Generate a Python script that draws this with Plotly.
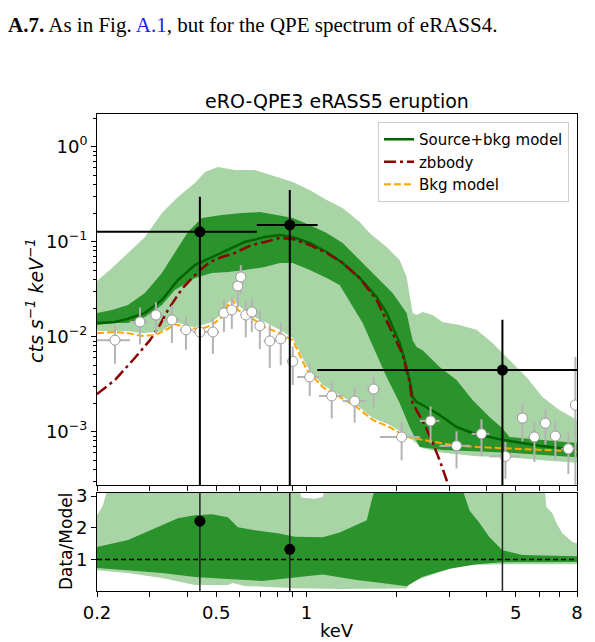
import math
import plotly.graph_objects as go

# ---------------- data (keV, cts s^-1 keV^-1) ----------------
outer_hi_e = [0.2, 0.2244, 0.2537, 0.2891, 0.3293, 0.3724, 0.4244, 0.4583, 0.5064, 0.5768, 0.6726, 0.726,
              0.7962, 0.9003, 1.0257, 1.1686, 1.3212, 1.5056, 1.6255, 1.8517, 2.0466, 2.1598, 2.2101, 2.2615,
              2.332, 2.4418, 2.6363, 2.8486, 3.2436, 3.6957, 4.1786, 4.7603, 5.4241, 6.1336, 6.9878, 8.0]
outer_hi_v = [0.0386, 0.0529, 0.0760, 0.1121, 0.200, 0.295, 0.415, 0.542, 0.611, 0.568, 0.568, 0.529,
              0.480, 0.425, 0.350, 0.275, 0.226, 0.161, 0.1235, 0.0879, 0.0642, 0.0425, 0.0275, 0.0178,
              0.0169, 0.0182, 0.0169, 0.0143, 0.0133, 0.0118, 0.0086, 0.0057, 0.00377, 0.00232, 0.00169, 0.00133]

outer_lo_e = [0.2, 0.2537, 0.2825, 0.3121, 0.3293, 0.3449, 0.364, 0.4024, 0.4244, 0.4837, 0.5223, 0.5469,
              0.5681, 0.5903, 0.6228, 0.6573, 0.726, 0.8147, 0.9003, 1.0032, 1.1334, 1.2911, 1.4714, 1.6635,
              1.8948, 2.1598, 2.4418, 2.8486, 3.6957, 4.7603, 6.1336, 8.0]
outer_lo_v = [0.0115, 0.0115, 0.0109, 0.0112, 0.0115, 0.0126, 0.0143, 0.0130, 0.0126, 0.0143, 0.0173, 0.0226,
              0.0255, 0.0216, 0.0191, 0.0165, 0.0143, 0.0118, 0.0097, 0.0049, 0.0031, 0.00243, 0.00191, 0.00139,
              0.00118, 0.00092, 0.00067, 0.00060, 0.00055, 0.00054, 0.00050, 0.00047]

inner_hi_e = [0.2, 0.2244, 0.2537, 0.2891, 0.3293, 0.3724, 0.4024, 0.4478, 0.5223, 0.6086, 0.6991, 0.7962,
              0.9003, 1.0257, 1.1686, 1.3212, 1.5056, 1.7153, 1.939, 2.1598, 2.2615, 2.332, 2.4418, 2.7838,
              3.1698, 3.5836, 4.0833, 4.5113, 4.7603, 6.1336, 8.0]
inner_hi_v = [0.0178, 0.0191, 0.0216, 0.0288, 0.0468, 0.0879, 0.1265, 0.178, 0.191, 0.200, 0.205, 0.191,
              0.178, 0.150, 0.1235, 0.0969, 0.0642, 0.0425, 0.0288, 0.0178, 0.0092, 0.0078, 0.0072, 0.0048,
              0.0035, 0.00216, 0.00143, 0.00109, 0.00088, 0.00082, 0.00076]

inner_lo_e = [0.2, 0.2296, 0.2537, 0.2891, 0.3293, 0.364, 0.4244, 0.4837, 0.5469, 0.6228, 0.726, 0.8147,
              0.9003, 1.0257, 1.1686, 1.2911, 1.5407, 1.8517, 2.0466, 2.2101, 2.3862, 2.8486, 4.7603, 8.0]
inner_lo_v = [0.0133, 0.0139, 0.0139, 0.0161, 0.0216, 0.0310, 0.0415, 0.0468, 0.0480, 0.0504, 0.0540, 0.0597,
              0.0597, 0.0504, 0.0415, 0.0350, 0.0139, 0.00377, 0.0020, 0.00112, 0.00069, 0.00064, 0.00060, 0.00054]

model_e = [0.2, 0.2296, 0.2537, 0.2891, 0.3293, 0.3724, 0.4244, 0.4837, 0.5469, 0.6228, 0.726, 0.8147,
           0.9003, 1.0257, 1.1686, 1.3212, 1.5056, 1.7153, 1.8517, 2.0466, 2.127, 2.2101, 2.2615, 2.332,
           2.4418, 2.7838, 3.1698, 3.5836, 4.5113, 5.994, 8.0]
model_v = [0.0139, 0.0143, 0.0154, 0.0178, 0.0243, 0.0395, 0.0568, 0.0690, 0.0818, 0.0993, 0.1121, 0.1176,
           0.1121, 0.0969, 0.0779, 0.0597, 0.0415, 0.0262, 0.0178, 0.0086, 0.0057, 0.0035, 0.00232, 0.00205,
           0.00191, 0.0015, 0.00112, 0.00097, 0.00082, 0.00071, 0.00064]

zbb_e = [0.2, 0.2296, 0.2678, 0.3004, 0.3244, 0.3449, 0.3842, 0.4343, 0.4763, 0.5223, 0.5768, 0.6573,
         0.726, 0.8147, 0.9003, 1.0257, 1.1686, 1.3212, 1.5056, 1.7153, 1.939, 2.0944, 2.2101, 2.2615,
         2.350, 2.4796, 2.6163, 2.7838, 2.959, 3.194]
zbb_v = [0.00249, 0.0035, 0.0060, 0.0092, 0.0133, 0.0191, 0.0318, 0.048, 0.0611, 0.069, 0.076, 0.0923,
         0.0993, 0.1094, 0.1067, 0.0923, 0.076, 0.0597, 0.0415, 0.0243, 0.0109, 0.0065, 0.0033, 0.0020,
         0.00161, 0.00118, 0.00082, 0.0005, 0.00029, 0.000117]

bkg_e = [0.2, 0.2296, 0.2537, 0.2825, 0.3121, 0.3449, 0.364, 0.4024, 0.4478, 0.4837, 0.5223, 0.5469,
         0.5681, 0.5903, 0.6573, 0.726, 0.8147, 0.9003, 1.0032, 1.1334, 1.2911, 1.4714, 1.6635, 1.8948,
         2.1598, 2.4418, 3.1698, 4.5113, 5.994, 8.0]
bkg_v = [0.0109, 0.0112, 0.0109, 0.0102, 0.0104, 0.0121, 0.0136, 0.0123, 0.0121, 0.0133, 0.0161, 0.0216,
         0.0243, 0.0191, 0.0157, 0.0126, 0.0109, 0.0092, 0.00446, 0.00295, 0.00232, 0.00182, 0.00133, 0.00112,
         0.00088, 0.00082, 0.00071, 0.00067, 0.00064, 0.00062]

# background spectrum data points
bkgdat_e = [0.2296, 0.2782, 0.3145, 0.3557, 0.3962, 0.4411, 0.4874, 0.5304, 0.5637, 0.5903, 0.6039, 0.6276,
            0.6573, 0.6991, 0.7545, 0.821, 0.9003, 1.0257, 1.2144, 1.4489, 1.6763, 2.0784, 2.5963, 3.1698,
            3.8397, 4.6164, 5.2602, 5.7677, 6.2762, 6.777, 7.487, 7.9012]
bkgdat_lo = [0.2, 0.2576, 0.2958, 0.332, 0.378, 0.418, 0.465, 0.51, 0.548, 0.577, 0.597, 0.612,
             0.642, 0.68, 0.72, 0.79, 0.86, 0.93, 1.10, 1.32, 1.59, 1.76, 2.39, 2.78,
             3.56, 4.08, 5.14, 5.47, 6.0, 6.57, 7.1, 7.84]
bkgdat_hi = [0.2576, 0.2958, 0.332, 0.378, 0.418, 0.465, 0.51, 0.548, 0.577, 0.597, 0.612, 0.642,
             0.68, 0.72, 0.79, 0.86, 0.93, 1.10, 1.32, 1.59, 1.76, 2.39, 2.78, 3.52,
             4.08, 5.14, 5.47, 6.0, 6.56, 7.1, 7.84, 8.0]
bkgdat_v = [0.0092, 0.0143, 0.0169, 0.0150, 0.0118, 0.0112, 0.0112, 0.0178, 0.0191, 0.0342, 0.0425, 0.0169,
            0.0182, 0.0130, 0.0090, 0.0095, 0.0055, 0.00377, 0.00238, 0.0021, 0.00281, 0.00088, 0.0013, 0.00071,
            0.00095, 0.00055, 0.00139, 0.00088, 0.00123, 0.0009, 0.00066, 0.00191]
bkgdat_err = [0.004, 0.006, 0.0062, 0.0064, 0.0045, 0.0046, 0.0046, 0.0066, 0.007, 0.014, 0.014, 0.0071,
              0.007, 0.0056, 0.0043, 0.0045, 0.0024, 0.0014, 0.001, 0.00085, 0.001, 0.00038, 0.00055, 0.0003,
              0.0004, 0.00023, 0.0006, 0.0004, 0.0005, 0.0004, 0.0003, 0.0042]

# source (QPE) data points
src_e = [0.441, 0.88, 4.51]
src_lo = [0.2, 0.683, 1.087]
src_hi = [0.683, 1.09, 8.0]
src_v = [0.127, 0.150, 0.00446]
src_err = [0.171, 0.200, 0.0106]
ratio_v = [2.21, 1.32, 5.6]
ratio_err = [3.0, 1.8, 13.0]

# ratio panel bands
r_outer_hi_e = [0.2, 0.2094, 0.2177, 0.9355, 0.965, 1.066, 1.1334, 1.16, 6.228, 6.325, 6.62, 6.83, 7.15, 7.72, 8.0]
r_outer_hi_v = [2.40, 2.71, 3.3, 3.3, 2.95, 2.92, 2.97, 3.3, 3.3, 2.65, 2.46, 2.15, 1.83, 1.55, 1.51]
r_outer_lo_e = [0.2, 0.2537, 0.3293, 0.4244, 0.5469, 0.5681, 0.6228, 0.914, 1.2911, 2.1598, 2.244, 2.4418,
                2.7838, 3.1698, 3.5836, 4.5113, 8.0]
r_outer_lo_v = [0.66, 0.57, 0.41, 0.19, 0.19, 0.25, 0.16, 0.09, 0.06, 0.08, 0.33, 0.41,
                0.60, 0.76, 0.82, 0.85, 0.85]
r_inner_hi_e = [0.2, 0.2537, 0.3293, 0.3724, 0.4244, 0.4837, 0.5469, 0.5903, 0.6726, 0.802, 0.914, 1.1334,
                1.2911, 1.4714, 1.59, 1.651, 1.702, 3.294, 3.502, 3.782, 4.083, 4.511, 5.26, 8.0]
r_inner_hi_v = [1.39, 1.61, 2.08, 2.30, 2.40, 2.43, 2.33, 2.02, 1.92, 1.83, 1.72, 1.70,
                1.85, 2.08, 2.24, 2.87, 3.3, 3.3, 2.55, 2.15, 1.70, 1.29, 1.14, 1.10]
r_inner_lo_e = [0.2, 0.2537, 0.3293, 0.4244, 0.5469, 0.7096, 0.8798, 1.1334, 1.4714, 1.8948, 2.1598, 2.2965,
                2.4418, 3.004, 3.6957, 4.5113, 8.0]
r_inner_lo_v = [0.73, 0.66, 0.57, 0.44, 0.38, 0.32, 0.42, 0.52, 0.35, 0.22, 0.15, 0.30,
                0.45, 0.70, 0.85, 0.91, 0.92]

# ticks
x_tickvals = [0.2, 0.3, 0.4, 0.5, 0.6, 0.7, 0.8, 0.9, 1, 2, 3, 4, 5, 6, 7, 8]
x_ticktext = ["0.2", "", "", "0.5", "", "", "", "", "1", "", "", "", "5", "", "", "8"]
y_tickvals = [1, 0.1, 0.01, 0.001]
y_ticktext = ["10<sup>0</sup>", "10<sup>−1</sup>", "10<sup>−2</sup>", "10<sup>−3</sup>"]
r_tickvals = [1, 2, 3]
r_ticktext = ["1", "2", "3"]

# ---------------- styling / layout ----------------
W, H = 595, 642
ML, MR, MT, MB = 97, 18, 114, 51
PW, PH = W - ML - MR, H - MT - MB
LIGHT = "#a8d4a6"
DARK = "#2b932b"
FONT = "DejaVu Sans"


def px_x(px):
    return (px - ML) / PW


def px_y(py):
    return (H - MB - py) / PH


def band(xs_hi, ys_hi, xs_lo, ys_lo, color, xa, ya):
    return go.Scatter(x=list(xs_hi) + list(reversed(xs_lo)), y=list(ys_hi) + list(reversed(ys_lo)),
                      fill="toself", fillcolor=color, line=dict(width=0), mode="lines",
                      showlegend=False, hoverinfo="skip", xaxis=xa, yaxis=ya)


fig = go.Figure()
fig.add_trace(band(outer_hi_e, outer_hi_v, outer_lo_e, outer_lo_v, LIGHT, "x", "y"))
fig.add_trace(band(inner_hi_e, inner_hi_v, inner_lo_e, inner_lo_v, DARK, "x", "y"))

fig.add_trace(go.Scatter(x=model_e, y=model_v, mode="lines", name="Source+bkg model",
                         line=dict(color="#006400", width=2.5), xaxis="x", yaxis="y"))
fig.add_trace(go.Scatter(x=zbb_e, y=zbb_v, mode="lines", name="zbbody",
                         line=dict(color="#8b0000", width=2.5, dash="12px,4px,3px,4px"), xaxis="x", yaxis="y"))
fig.add_trace(go.Scatter(x=bkg_e, y=bkg_v, mode="lines", name="Bkg model",
                         line=dict(color="#ffa500", width=2, dash="7px,3px"), xaxis="x", yaxis="y"))

# background data
fig.add_trace(go.Scatter(
    x=bkgdat_e, y=bkgdat_v, mode="markers", showlegend=False, xaxis="x", yaxis="y",
    marker=dict(color="white", size=10, line=dict(color="#9a9a9a", width=1)),
    error_x=dict(type="data", array=[h - e for h, e in zip(bkgdat_hi, bkgdat_e)],
                 arrayminus=[e - l for e, l in zip(bkgdat_e, bkgdat_lo)],
                 color="#b4b4b4", thickness=2, width=0),
    error_y=dict(type="data", array=bkgdat_err,
                 arrayminus=[min(s, v - 1e-7) for s, v in zip(bkgdat_err, bkgdat_v)],
                 color="#b4b4b4", thickness=2, width=0)))

# source data
fig.add_trace(go.Scatter(
    x=src_e, y=src_v, mode="markers", showlegend=False, xaxis="x", yaxis="y",
    marker=dict(color="black", size=11),
    error_x=dict(type="data", array=[h - e for h, e in zip(src_hi, src_e)],
                 arrayminus=[e - l for e, l in zip(src_e, src_lo)],
                 color="black", thickness=2, width=0),
    error_y=dict(type="data", array=src_err,
                 arrayminus=[min(s, v - 1e-7) for s, v in zip(src_err, src_v)],
                 color="black", thickness=2, width=0)))

# ratio panel
fig.add_trace(band(r_outer_hi_e, r_outer_hi_v, r_outer_lo_e, r_outer_lo_v, LIGHT, "x2", "y2"))
fig.add_trace(band(r_inner_hi_e, r_inner_hi_v, r_inner_lo_e, r_inner_lo_v, DARK, "x2", "y2"))
fig.add_trace(go.Scatter(x=[0.2, 8.0], y=[1, 1], mode="lines", showlegend=False, xaxis="x2", yaxis="y2",
                         line=dict(color="black", width=1.5, dash="5px,3px")))
fig.add_trace(go.Scatter(
    x=src_e, y=ratio_v, mode="markers", showlegend=False, xaxis="x2", yaxis="y2",
    marker=dict(color="black", size=11),
    error_y=dict(type="data", array=ratio_err, color="#222222", thickness=1.5, width=0)))

xr = [math.log10(0.2), math.log10(8.0)]
axis_common = dict(showline=True, linecolor="black", linewidth=1, mirror=True, showgrid=False,
                   zeroline=False, ticks="outside", tickcolor="black", tickwidth=1,
                   tickfont=dict(family=FONT, size=18, color="black"))
minor_y = [k * 10.0 ** n for n in range(-4, 1) for k in range(2, 10)]

fig.update_layout(
    width=W, height=H, margin=dict(l=ML, r=MR, t=MT, b=MB, pad=0),
    paper_bgcolor="white", plot_bgcolor="white",
    font=dict(family=FONT, color="black"),
    xaxis=dict(domain=[0, 1], anchor="y", type="log", range=xr, tickvals=x_tickvals,
               ticktext=x_ticktext, showticklabels=False, ticklen=5, **axis_common),
    yaxis=dict(domain=[px_y(485), 1], anchor="x", type="log",
               range=[-3.561, 0.344], tickvals=y_tickvals, ticktext=y_ticktext, ticklen=5,
               minor=dict(tickvals=minor_y, ticks="outside", ticklen=3, tickcolor="black", tickwidth=1),
               **axis_common),
    xaxis2=dict(domain=[0, 1], anchor="y2", type="log", range=xr, tickvals=x_tickvals,
                ticktext=x_ticktext, ticklen=5, **axis_common),
    yaxis2=dict(domain=[0, px_y(493)], anchor="x2", range=[0, 3.1], tickvals=r_tickvals,
                ticktext=r_ticktext, ticklen=5, **axis_common),
    legend=dict(x=px_x(569), y=px_y(122), xanchor="right", yanchor="top",
                bgcolor="rgba(255,255,255,0.85)", bordercolor="#cccccc", borderwidth=1,
                font=dict(family=FONT, size=15, color="black"), tracegroupgap=2),
    showlegend=True,
)

ann = [
    dict(text="<b>A.7.</b> As in Fig. <span style='color:#1a1aee'>A.1</span>, but for the QPE spectrum of eRASS4.",
         x=px_x(6), y=px_y(25), xanchor="left", yanchor="middle",
         font=dict(family="Liberation Serif", size=21, color="black")),
    dict(text="eRO-QPE3 eRASS5 eruption", x=0.5, y=px_y(101), xanchor="center", yanchor="middle",
         font=dict(family=FONT, size=19, color="black")),
    dict(text="<i>cts s<sup>−1</sup> keV<sup>−1</sup></i>", x=px_x(35), y=px_y(300), textangle=-90,
         xanchor="center", yanchor="middle", font=dict(family=FONT, size=19, color="black")),
    dict(text="Data/Model", x=px_x(66), y=px_y(542), textangle=-90,
         xanchor="center", yanchor="middle", font=dict(family=FONT, size=17, color="black")),
    dict(text="keV", x=0.5, y=px_y(630), xanchor="center", yanchor="middle",
         font=dict(family=FONT, size=18, color="black")),
]
for a in ann:
    fig.add_annotation(xref="paper", yref="paper", showarrow=False, **a)

fig.write_html("out.html")
